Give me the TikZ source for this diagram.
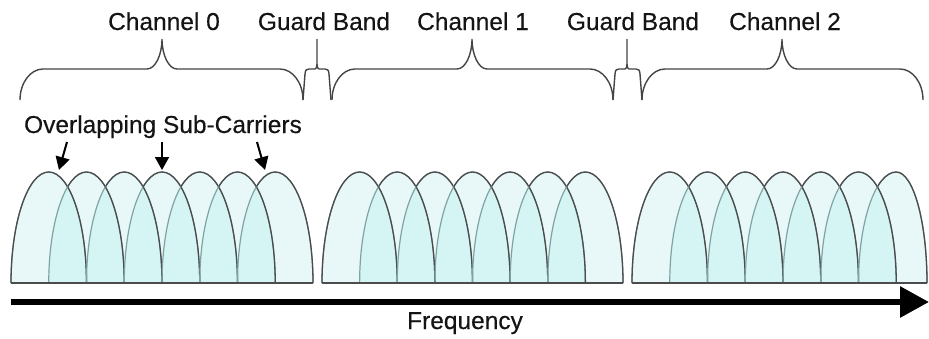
\documentclass[tikz,border=0pt]{standalone}
\usepackage{fontspec}
\setmainfont{Liberation Sans}
\newfontfamily\labelfont{Liberation Sans}[FakeBold=0.35]
\usetikzlibrary{arrows.meta}
\definecolor{fillone}{HTML}{E8F7F7}
\definecolor{filltwo}{HTML}{D5F5F5}
\definecolor{edgedark}{HTML}{4C4C4C}
\definecolor{edgelight}{HTML}{7FA3A3}
\definecolor{inkgrey}{HTML}{141414}
\definecolor{bracegrey}{HTML}{444444}

\tikzset{
  % one sub-carrier: left foot, peak, right foot (base y = 283, top y = 172)
  archopen/.style n args={3}{insert path={
    (#1,283) .. controls (#1,221.7) and ({#2-0.5523*(#2-#1)},172) .. (#2,172)
    .. controls ({#2+0.5523*(#3-#2)},172) and (#3,221.7) .. (#3,283)}},
  archclosed/.style n args={3}{archopen={#1}{#2}{#3}, insert path={-- cycle}},
  % wide curly brace over a channel
  chbrace/.style n args={3}{insert path={
    (#1,100) .. controls (#1,83) and ({#1+10.3},69) .. ({#1+23},69)
    -- ({#2-15},69) .. controls ({#2-6.7},69) and (#2,55) .. (#2,39)
    .. controls (#2,55) and ({#2+6.7},69) .. ({#2+15},69)
    -- ({#3-23},69) .. controls ({#3-10.3},69) and (#3,83) .. (#3,100)}},
  % narrow brace over a guard band
  gdbrace/.style n args={3}{insert path={
    (#1,100) -- ({#1+2},74) .. controls ({#1+2.5},70) and ({#1+3},69) .. ({#1+6},69)
    -- ({#2-2},69) .. controls ({#2-0.5},69) and (#2,67) .. (#2,64) -- (#2,39)
    -- (#2,64) .. controls (#2,67) and ({#2+0.5},69) .. ({#2+2},69)
    -- ({#3-6},69) .. controls ({#3-3},69) and ({#3-2.5},70) .. ({#3-2},74) -- (#3,100)}},
  bracestyle/.style={draw=bracegrey, line width=1.4pt},
  label/.style={inner sep=0pt, anchor=base, text=inkgrey,
    font=\labelfont\fontsize{24.5}{29}\selectfont},
  pointer/.style={draw=black, line width=2pt, -{Triangle[length=13pt,width=14pt]}},
  axisarrow/.style={draw=black, line width=6pt, -{Triangle[length=29pt,width=30pt]}},
}

\begin{document}
\begin{tikzpicture}[x=1pt, y=-1pt]
\useasboundingbox (0,0) rectangle (929,338);

% three channels of seven overlapping sub-carriers: left edge / spacing / right edge
\foreach \L/\s/\R in {11/37.75/313, 322/37.625/623, 632/37.75/927} {
  % plain fill
  \foreach \k in {0,...,6} {
    \pgfmathsetmacro\xl{\L+\k*\s}
    \pgfmathsetmacro\xc{\L+(\k+1)*\s}
    \pgfmathsetmacro\xr{\k==6 ? \R : \L+(\k+2)*\s}
    \fill[fillone, archclosed={\xl}{\xc}{\xr}];
  }
  % darker overlap between neighbours
  \foreach \k in {1,...,6} {
    \pgfmathsetmacro\pl{\L+(\k-1)*\s}
    \pgfmathsetmacro\pc{\L+\k*\s}
    \pgfmathsetmacro\pr{\L+(\k+1)*\s}
    \pgfmathsetmacro\xl{\L+\k*\s}
    \pgfmathsetmacro\xc{\L+(\k+1)*\s}
    \pgfmathsetmacro\xr{\k==6 ? \R : \L+(\k+2)*\s}
    \begin{scope}
      \clip[archclosed={\pl}{\pc}{\pr}];
      \fill[filltwo, archclosed={\xl}{\xc}{\xr}];
    \end{scope}
  }
  % outlines: the rising edge hidden under the previous carrier is paler
  \foreach \k in {0,...,6} {
    \pgfmathsetmacro\xl{\L+\k*\s}
    \pgfmathsetmacro\xc{\L+(\k+1)*\s}
    \pgfmathsetmacro\xr{\k==6 ? \R : \L+(\k+2)*\s}
    \pgfmathsetmacro\xcut{\k==0 ? \xl-3 : \xl+0.5*\s}
    \pgfmathsetmacro\xend{\xr+3}
    \draw[edgelight, line width=1.2pt, archopen={\xl}{\xc}{\xr}];
    \begin{scope}
      \clip (\xcut,150) rectangle (\xend,290);
      \draw[edgedark, line width=1.3pt, archopen={\xl}{\xc}{\xr}];
    \end{scope}
  }
  \draw[edgedark, line width=1.3pt] (\L,283) -- (\R,283);
}

% labels
\node[label] (ch0) at (164,30) {Channel 0};
\node[label] (gb1) at (324,30) {Guard Band};
\node[label] (ch1) at (473,30) {Channel 1};
\node[label] (gb2) at (633,30) {Guard Band};
\node[label] (ch2) at (785,30) {Channel 2};
\node[label] (ovl) at (163,133) {Overlapping Sub-Carriers};
\node[label] (freq) at (465,329) {Frequency};

% braces
\draw[bracestyle, chbrace={20}{162}{303}];
\draw[bracestyle, gdbrace={303}{317}{331}];
\draw[bracestyle, chbrace={332}{472}{613}];
\draw[bracestyle, gdbrace={613}{627}{642}];
\draw[bracestyle, chbrace={642}{782}{923}];

% pointers to the overlapping carriers
\coordinate (p1s) at (67,142);  \coordinate (p1e) at (59,170);
\coordinate (p2s) at (162,142); \coordinate (p2e) at (162,170);
\coordinate (p3s) at (257,142); \coordinate (p3e) at (265,170);
\draw[pointer] (p1s) -- (p1e);
\draw[pointer] (p2s) -- (p2e);
\draw[pointer] (p3s) -- (p3e);

% frequency axis
\coordinate (f0) at (11,302);
\coordinate (f1) at (929,302);
\draw[axisarrow] (f0) -- (f1);
\end{tikzpicture}
\end{document}
